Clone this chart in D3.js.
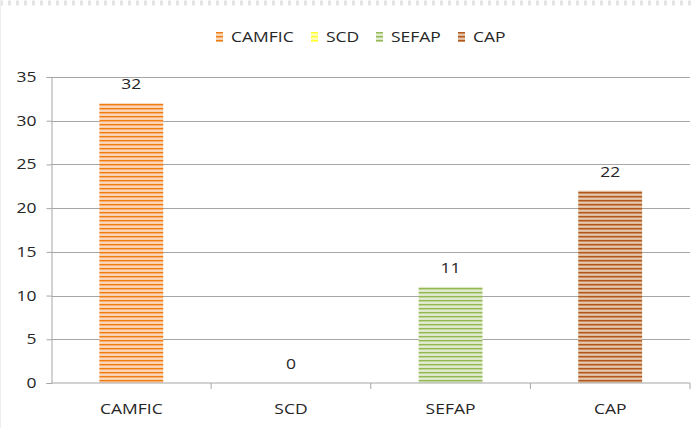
<!DOCTYPE html>
<html>
<head>
<meta charset="utf-8">
<script src="https://cdn.jsdelivr.net/npm/d3@7"></script>
<style>
  body { margin: 0; background: #fff; }
  svg { display: block; font-family: 'Open Sans', 'Liberation Sans', sans-serif; }
</style>
</head>
<body>
<svg id="chart" width="693" height="428"></svg>
<script>
const categories = ['CAMFIC', 'SCD', 'SEFAP', 'CAP'];
const values = [32, 0, 11, 22];
const yTicks = [0, 5, 10, 15, 20, 25, 30, 35];
// stripe colours: [line, tint]
const stripeColors = [
  ['#f07d12', '#f9c59a'],
  ['#ffff33', '#ffff99'],
  ['#93b955', '#d3e2b8'],
  ['#b0581e', '#d7a57f'],
];

const svg = d3.select('#chart');
const width = 693;
const height = 428;
const margin = { top: 77, right: 3, bottom: 45, left: 51.5 };
const stretch = 'scale(1.25,1)'; // reference text is wide

// faint dashed slide border
svg.append('line')
  .attr('x1', 0).attr('x2', width).attr('y1', 3).attr('y2', 3)
  .attr('stroke', '#e4e4e4').attr('stroke-width', 5)
  .attr('stroke-dasharray', '3,5');
svg.append('line')
  .attr('x1', 0.5).attr('x2', 0.5).attr('y1', 0).attr('y2', height)
  .attr('stroke', '#eeeeee');

const defs = svg.append('defs');
stripeColors.forEach((c, i) => {
  const p = defs.append('pattern')
    .attr('id', `stripe${i}`)
    .attr('patternUnits', 'userSpaceOnUse')
    .attr('width', 8).attr('height', 4);
  p.append('rect').attr('width', 8).attr('height', 4).attr('fill', c[1]);
  p.append('rect').attr('y', 0).attr('width', 8).attr('height', 1.3).attr('fill', c[0]);
  p.append('rect').attr('y', 2.5).attr('width', 8).attr('height', 0.8).attr('fill', '#ffffff').attr('opacity', 0.7);
});

const x = d3.scaleBand()
  .domain(categories)
  .range([margin.left, width - margin.right])
  .paddingInner(0)
  .paddingOuter(0);

const y = d3.scaleLinear()
  .domain([0, 35])
  .range([height - margin.bottom, margin.top]);

// gridlines
svg.append('g')
  .selectAll('line')
  .data(yTicks.filter((t) => t > 0))
  .enter()
  .append('line')
  .attr('x1', margin.left).attr('x2', width - margin.right)
  .attr('y1', (d) => Math.round(y(d)) + 0.5).attr('y2', (d) => Math.round(y(d)) + 0.5)
  .attr('stroke', '#a6a6a6').attr('stroke-width', 1);

// bars
const barW = x.bandwidth() * 0.4;
svg.append('g')
  .selectAll('rect')
  .data(categories)
  .enter()
  .append('rect')
  .attr('x', (d) => x(d) + (x.bandwidth() - barW) / 2)
  .attr('y', (d, i) => y(values[i]))
  .attr('width', barW)
  .attr('height', (d, i) => y(0) - y(values[i]))
  .attr('fill', (d, i) => `url(#stripe${i})`);

// value labels
svg.append('g')
  .selectAll('text')
  .data(categories)
  .enter()
  .append('text')
  .attr('transform', (d, i) => `translate(${x(d) + x.bandwidth() / 2},${y(values[i]) - 14}) ${stretch}`)
  .attr('text-anchor', 'middle')
  .attr('font-size', 14)
  .attr('fill', '#262626')
  .text((d, i) => values[i]);

// y axis
const yAxis = svg.append('g')
  .attr('transform', `translate(${margin.left},0)`)
  .call(d3.axisLeft(y).tickValues(yTicks).tickSize(5).tickPadding(7));
yAxis.selectAll('line, path').attr('stroke', '#a6a6a6');
yAxis.selectAll('text').attr('font-size', 14).attr('fill', '#262626')
  .attr('font-family', "'Open Sans', sans-serif")
  .attr('transform', stretch);

// x axis
const xAxis = svg.append('g')
  .attr('transform', `translate(0,${y(0)})`)
  .call(d3.axisBottom(x).tickSize(0).tickPadding(21));
xAxis.select('.domain').attr('stroke', '#a6a6a6').attr('d', `M${margin.left},0H${width - margin.right}V6`);
xAxis.selectAll('text').attr('font-size', 14).attr('fill', '#262626')
  .attr('font-family', "'Open Sans', sans-serif")
  .attr('transform', stretch);
xAxis.selectAll('.boundary')
  .data(categories.slice(1))
  .enter()
  .append('line')
  .attr('x1', (d) => x(d)).attr('x2', (d) => x(d))
  .attr('y1', 0).attr('y2', 6)
  .attr('stroke', '#a6a6a6');

// legend
const legendX = [216, 311, 376, 458];
const legend = svg.append('g').selectAll('g')
  .data(categories)
  .enter()
  .append('g')
  .attr('transform', (d, i) => `translate(${legendX[i]},32)`);
legend.append('rect')
  .attr('width', 7).attr('height', 10)
  .attr('fill', (d, i) => `url(#stripe${i})`);
legend.append('text')
  .attr('transform', `translate(15,10) ${stretch}`)
  .attr('font-size', 14)
  .attr('fill', '#262626')
  .text((d) => d);
</script>
</body>
</html>
